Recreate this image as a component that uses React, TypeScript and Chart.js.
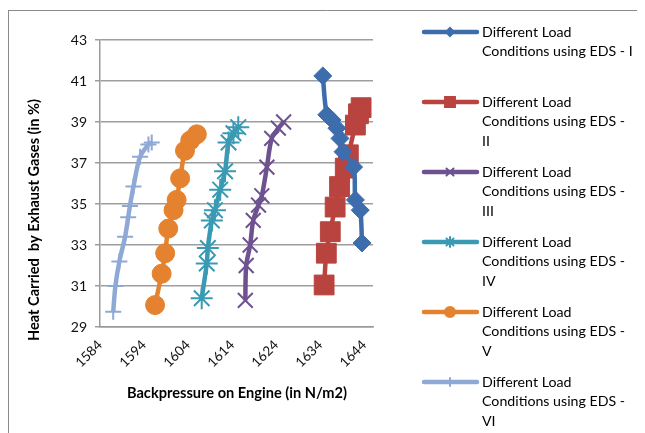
import React, { useEffect, useRef } from 'react';
import { Chart, registerables } from 'chart.js';
import { drawPoint } from 'chart.js/helpers';

Chart.register(...registerables);

// ---- data ----
const eds1X = [1634.6, 1635.5, 1636.7, 1637.8, 1638.5, 1639.2, 1641.6, 1642.0, 1643.1, 1643.5];
const eds1Y = [41.25, 39.35, 39.1, 38.7, 38.2, 37.55, 36.8, 35.2, 34.7, 33.1];

const eds2X = [1634.9, 1635.4, 1636.3, 1637.4, 1638.4, 1639.7, 1640.4, 1642.0, 1642.7, 1643.3];
const eds2Y = [31.05, 32.6, 33.65, 34.85, 35.85, 36.75, 37.4, 38.85, 39.4, 39.7];

const eds3X = [1617.0, 1617.2, 1618.1, 1618.8, 1620.0, 1620.75, 1621.9, 1623.0, 1624.5, 1625.7];
const eds3Y = [30.3, 32.0, 33.0, 34.2, 34.95, 35.4, 36.8, 38.2, 38.7, 39.0];

const eds4X = [1607.1, 1608.25, 1608.5, 1609.4, 1610.1, 1611.3, 1612.4, 1613.2, 1614.3, 1615.4];
const eds4Y = [30.4, 32.1, 32.85, 34.2, 34.7, 35.7, 36.6, 38.0, 38.45, 38.75];

const eds5X = [1596.5, 1598.0, 1598.8, 1599.5, 1600.7, 1601.4, 1602.2, 1603.3, 1604.5, 1606.0];
const eds5Y = [30.07, 31.6, 32.6, 33.8, 34.7, 35.2, 36.25, 37.6, 38.1, 38.4];

const eds6X = [1587.0, 1587.5, 1588.4, 1589.7, 1590.4, 1590.8, 1591.6, 1593.1, 1595.0, 1595.75];
const eds6Y = [29.75, 31.0, 32.2, 33.4, 34.35, 34.9, 35.85, 37.3, 37.9, 38.0];

const seriesNames = [
  'Different Load Conditions using EDS - I',
  'Different Load Conditions using EDS - II',
  'Different Load Conditions using EDS - III',
  'Different Load Conditions using EDS - IV',
  'Different Load Conditions using EDS - V',
  'Different Load Conditions using EDS - VI',
];
const legendLines = [
  ['Different Load', 'Conditions using EDS - I'],
  ['Different Load', 'Conditions using EDS -', 'II'],
  ['Different Load', 'Conditions using EDS -', 'III'],
  ['Different Load', 'Conditions using EDS -', 'IV'],
  ['Different Load', 'Conditions using EDS -', 'V'],
  ['Different Load', 'Conditions using EDS -', 'VI'],
];

const xTicks = [1584, 1594, 1604, 1614, 1624, 1634, 1644];
const xMin = 1584;
const xMax = 1646;
const yMin = 29;
const yMax = 43;
const yStep = 2;

const xTitle = 'Backpressure on Engine (in N/m2)';
const yTitle = 'Heat Carried  by Exhaust Gases (in %)';

// ---- styles ----
const FONT = 'Lato, "Open Sans", sans-serif';
const colors = ['#3E6DAD', '#B9443F', '#6E5290', '#3A9AB3', '#E4822F', '#8FA9D6'];
const styles = ['rectRot', 'rect', 'crossRot', 'star', 'circle', 'cross'];
const radii = [9, 14, 10.5, 11, 9.5, 8];
const pointBorders = [1, 1, 2, 2, 1, 2];
const legendRadii = [4, 7, 5, 5, 5, 4];

function pts(xs: number[], ys: number[]) {
  return xs.map((x, i) => ({ x, y: ys[i] }));
}

const frameAndText = {
  id: 'frameAndText',
  beforeDraw(chart: any) {
    const ctx = chart.ctx;
    ctx.save();
    ctx.strokeStyle = '#8a8a8a';
    ctx.lineWidth = 1;
    ctx.beginPath();
    ctx.moveTo(0, 2.5);
    ctx.lineTo(chart.width, 2.5);
    ctx.moveTo(0.5, 2.5);
    ctx.lineTo(0.5, chart.height);
    ctx.stroke();
    ctx.restore();
  },
  afterDraw(chart: any) {
    const ctx = chart.ctx;
    ctx.save();
    ctx.fillStyle = '#000';
    ctx.font = 'bold 14.6px ' + FONT;
    ctx.textAlign = 'center';
    ctx.textBaseline = 'middle';
    ctx.fillText(xTitle, 229, 385);
    ctx.translate(26, 212);
    ctx.rotate(-Math.PI / 2);
    ctx.fillText(yTitle, 0, 0);
    ctx.restore();

    // legend
    ctx.save();
    const ds = chart.data.datasets;
    for (let i = 0; i < ds.length; i++) {
      const y0 = 24 + i * 70;
      ctx.strokeStyle = colors[i];
      ctx.lineWidth = 4.5;
      ctx.lineCap = 'round';
      ctx.beginPath();
      ctx.moveTo(416, y0);
      ctx.lineTo(469, y0);
      ctx.stroke();
      ctx.fillStyle = colors[i];
      ctx.lineWidth = 2;
      drawPoint(ctx, { pointStyle: styles[i], radius: legendRadii[i], rotation: 0, borderWidth: 2 } as any, 442, y0);
      ctx.fillStyle = '#000';
      ctx.font = '14.2px ' + FONT;
      ctx.textAlign = 'left';
      ctx.textBaseline = 'middle';
      legendLines[i].forEach((t, j) => ctx.fillText(t, 474, y0 + j * 19.7));
    }
    ctx.restore();
  },
};

export default function App() {
  const ref = useRef<HTMLCanvasElement>(null);
  useEffect(() => {
    if (!ref.current) return;
    const sets = [
      pts(eds1X, eds1Y),
      pts(eds2X, eds2Y),
      pts(eds3X, eds3Y),
      pts(eds4X, eds4Y),
      pts(eds5X, eds5Y),
      pts(eds6X, eds6Y),
    ];
    const chart = new Chart(ref.current, {
      type: 'scatter',
      data: {
        datasets: sets.map((d, i) => ({
          label: seriesNames[i],
          data: d,
          showLine: true,
          borderColor: colors[i],
          backgroundColor: colors[i],
          borderWidth: 4.5,
          tension: 0.3,
          pointStyle: styles[i] as any,
          pointRadius: radii[i],
          pointBorderWidth: pointBorders[i],
          pointBackgroundColor: colors[i],
          pointBorderColor: colors[i],
          order: i,
        })),
      },
      options: {
        responsive: false,
        animation: false,
        devicePixelRatio: 1,
        layout: { padding: { top: 32, right: 272, left: 0, bottom: 0 } },
        plugins: { legend: { display: false }, tooltip: { enabled: false }, title: { display: false } },
        scales: {
          x: {
            type: 'linear',
            min: xMin,
            max: xMax,
            afterBuildTicks: (s: any) => {
              s.ticks = xTicks.map((v) => ({ value: v }));
            },
            afterFit: (s: any) => {
              s.height = 106;
            },
            grid: { display: false, drawTicks: false },
            border: { display: true, color: '#9a9a9a', width: 1.5 },
            ticks: {
              minRotation: 45,
              maxRotation: 45,
              padding: 10,
              color: '#111',
              font: { family: FONT, size: 13.5 },
              callback: (v: any) => String(v),
            },
          },
          y: {
            type: 'linear',
            min: yMin,
            max: yMax,
            afterFit: (s: any) => {
              s.width = 92;
            },
            grid: { color: '#9e9e9e', lineWidth: 1.5, tickLength: 5, drawTicks: true },
            border: { display: true, color: '#9a9a9a', width: 1.5 },
            ticks: {
              stepSize: yStep,
              padding: 8,
              color: '#111',
              font: { family: FONT, size: 14 },
            },
          },
        },
      },
      plugins: [frameAndText],
    } as any);
    return () => chart.destroy();
  }, []);
  return (
    <div style={{ width: 637, height: 425 }}>
      <canvas ref={ref} width={637} height={425} style={{ display: 'block' }} />
    </div>
  );
}
